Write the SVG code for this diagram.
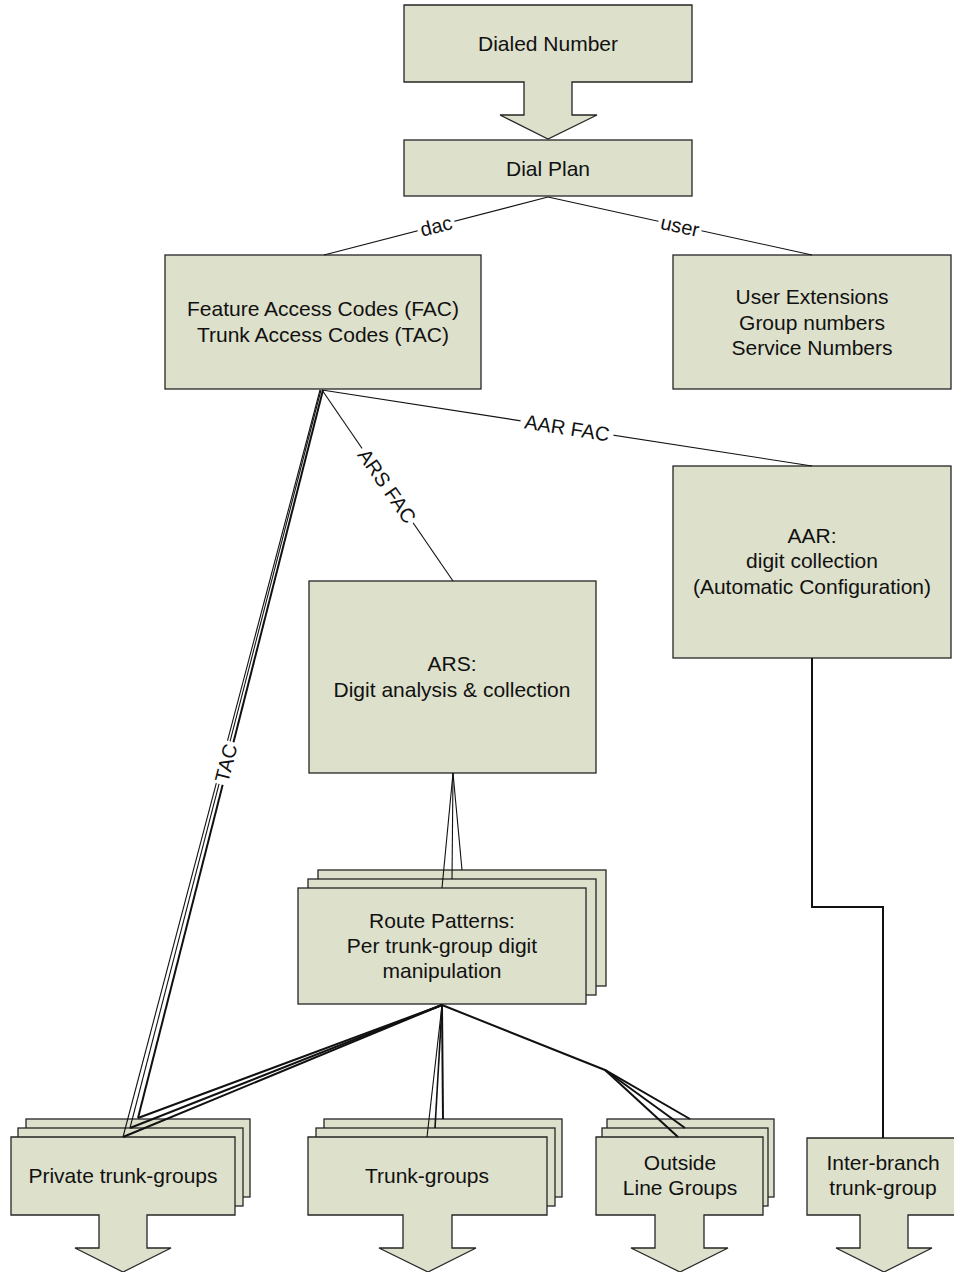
<svg xmlns="http://www.w3.org/2000/svg" width="954" height="1272" viewBox="0 0 954 1272">
<style>
.box{fill:#dde0cb;stroke:#262626;stroke-width:1.3}
.t{font-family:"Liberation Sans",Arial,sans-serif;font-size:21px;fill:#111;text-anchor:middle}
.lbl{font-family:"Liberation Sans",Arial,sans-serif;font-size:20px;fill:#111;text-anchor:middle}
.c1{fill:none;stroke:#111;stroke-width:1.1}
.c2{fill:none;stroke:#111;stroke-width:2}
.bg{fill:#fff}
</style>
<rect width="954" height="1272" fill="#fff"/>

<g id="dialed-number">
<path class="box" d="M404,5 H692 V82 H572 V115 H597 L548,139 L500,115 H524 V82 H404 Z"/>
<text class="t" x="548" y="51">Dialed Number</text>
</g>

<g id="dial-plan">
<rect class="box" x="404" y="140" width="288" height="56"/>
<text class="t" x="548" y="176">Dial Plan</text>
</g>

<g id="fac-tac">
<rect class="box" x="165" y="255" width="316" height="134"/>
<text class="t" x="323" y="316">Feature Access Codes (FAC)</text>
<text class="t" x="323" y="342">Trunk Access Codes (TAC)</text>
</g>

<g id="user-extensions">
<rect class="box" x="673" y="255" width="278" height="134"/>
<text class="t" x="812" y="304">User Extensions</text>
<text class="t" x="812" y="330">Group numbers</text>
<text class="t" x="812" y="355">Service Numbers</text>
</g>

<g id="aar">
<rect class="box" x="673" y="466" width="278" height="192"/>
<text class="t" x="812" y="543">AAR:</text>
<text class="t" x="812" y="568">digit collection</text>
<text class="t" x="812" y="594">(Automatic Configuration)</text>
</g>

<g id="ars">
<rect class="box" x="309" y="581" width="287" height="192"/>
<text class="t" x="452" y="671">ARS:</text>
<text class="t" x="452" y="697">Digit analysis &amp; collection</text>
</g>

<g id="route-patterns">
<rect class="box" x="318" y="870" width="288" height="116"/>
<rect class="box" x="308" y="879" width="288" height="116"/>
<rect class="box" x="298" y="888" width="288" height="116"/>
<text class="t" x="442" y="928">Route Patterns:</text>
<text class="t" x="442" y="953">Per trunk-group digit</text>
<text class="t" x="442" y="978">manipulation</text>
</g>

<g id="private-trunk-groups">
<rect class="box" x="26" y="1119" width="224" height="78"/>
<rect class="box" x="18" y="1128" width="225" height="78"/>
<path class="box" d="M11,1137 H235 V1215 H147 V1248 H171 L123,1272 L75,1248 H99 V1215 H11 Z"/>
<text class="t" x="123" y="1183">Private trunk-groups</text>
</g>

<g id="trunk-groups">
<rect class="box" x="324" y="1119" width="238" height="78"/>
<rect class="box" x="316" y="1128" width="239" height="78"/>
<path class="box" d="M308,1137 H547 V1215 H452 V1248 H476 L428,1272 L379,1248 H403 V1215 H308 Z"/>
<text class="t" x="427" y="1183">Trunk-groups</text>
</g>

<g id="outside-line-groups">
<rect class="box" x="607" y="1119" width="167" height="78"/>
<rect class="box" x="602" y="1128" width="166" height="78"/>
<path class="box" d="M596,1137 H763 V1215 H704 V1248 H728 L680,1272 L631,1248 H655 V1215 H596 Z"/>
<text class="t" x="680" y="1170">Outside</text>
<text class="t" x="680" y="1195">Line Groups</text>
</g>

<g id="inter-branch-trunk-group">
<path class="box" d="M807,1138 H960 V1215 H908 V1248 H932 L884,1272 L836,1248 H860 V1215 H807 Z"/>
<text class="t" x="883" y="1170">Inter-branch</text>
<text class="t" x="883" y="1195">trunk-group</text>
</g>

<g id="connectors">
<line class="c1" x1="548" y1="197" x2="324" y2="255"/>
<line class="c1" x1="548" y1="197" x2="812" y2="255"/>
<line class="c1" x1="322" y1="390" x2="812" y2="466"/>
<line class="c1" x1="322" y1="390" x2="453" y2="581"/>
<line class="c2" x1="323" y1="390" x2="138" y2="1118"/>
<line class="c1" x1="321" y1="390" x2="130" y2="1128"/>
<line class="c1" x1="320" y1="390" x2="123" y2="1137"/>
<line class="c1" x1="453" y1="773" x2="462" y2="870"/>
<line class="c1" x1="453" y1="773" x2="452" y2="879"/>
<line class="c1" x1="453" y1="773" x2="442" y2="888"/>
<line class="c2" x1="442" y1="1005" x2="138" y2="1118"/>
<line class="c2" x1="442" y1="1005" x2="130" y2="1128"/>
<line class="c2" x1="442" y1="1005" x2="123" y2="1137"/>
<line class="c2" x1="442" y1="1005" x2="443" y2="1119"/>
<line class="c2" x1="442" y1="1005" x2="435" y2="1128" style="stroke-width:1.6"/>
<line class="c1" x1="442" y1="1005" x2="427" y2="1137"/>
<polyline class="c2" points="442,1005 605,1070 690,1119"/>
<line class="c2" x1="605" y1="1070" x2="685" y2="1128"/>
<line class="c2" x1="605" y1="1070" x2="678" y2="1137"/>
<polyline class="c2" points="812,658 812,907 883,907 883,1138"/>

<g transform="translate(436,226) rotate(-14.5)">
<rect class="bg" x="-19" y="-10" width="38" height="20"/>
<text class="lbl" y="7">dac</text>
</g>
<g transform="translate(680,226) rotate(12.4)">
<rect class="bg" x="-22" y="-10" width="44" height="20"/>
<text class="lbl" y="7">user</text>
</g>
<g transform="translate(567,428) rotate(8.8)">
<rect class="bg" x="-47" y="-10" width="94" height="20"/>
<text class="lbl" y="7">AAR FAC</text>
</g>
<g transform="translate(387,486) rotate(55.1)">
<rect class="bg" x="-45" y="-10" width="90" height="20"/>
<text class="lbl" y="7">ARS FAC</text>
</g>
<g transform="translate(226,763) rotate(-75.6)">
<rect class="bg" x="-22" y="-10" width="44" height="20"/>
<text class="lbl" y="7">TAC</text>
</g>
</g>
</svg>
